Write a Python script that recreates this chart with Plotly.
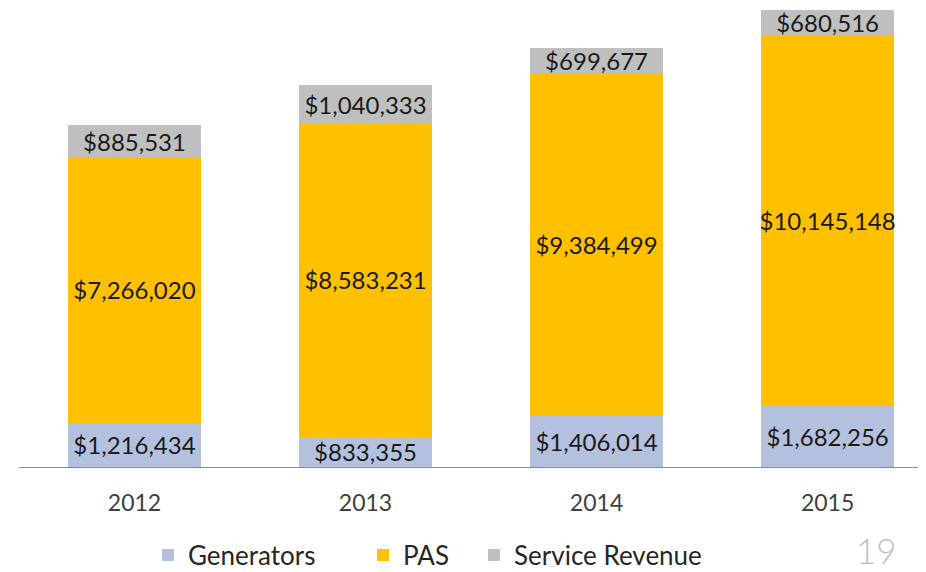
import plotly.graph_objects as go

years = ["2012", "2013", "2014", "2015"]
generators = [1216434, 833355, 1406014, 1682256]
pas = [7266020, 8583231, 9384499, 10145148]
service = [885531, 1040333, 699677, 680516]

series = [
    ("Generators", generators, "#B4C1DE", "legend"),
    ("PAS", pas, "#FFC000", "legend2"),
    ("Service Revenue", service, "#BFBFBF", "legend3"),
]

FONT = "Lato"
W, H = 918, 564  # page has an 8px body margin

fig = go.Figure()
for name, vals, color, leg in series:
    fig.add_trace(go.Bar(
        x=years, y=vals, name=name, legend=leg,
        marker=dict(color=color, line=dict(width=0)),
        text=[f"${v:,}" for v in vals],
        textposition="inside",
        insidetextanchor="middle",
        constraintext="none",
        textangle=0,
        textfont=dict(family=FONT, size=24, color="#1a1a1a"),
        hoverinfo="skip",
    ))

leg_common = dict(
    orientation="h", xref="container", yref="container",
    y=17 / H, xanchor="left", yanchor="middle",
    font=dict(family=FONT, size=26, color="#262626"),
    itemclick=False, bgcolor="rgba(0,0,0,0)",
)

fig.update_layout(
    barmode="stack",
    bargap=0.427,
    width=W, height=H,
    margin=dict(l=11, r=0, t=0, b=105),
    paper_bgcolor="white", plot_bgcolor="white",
    xaxis=dict(
        type="category", range=[-0.5, 3.426],
        showline=True, linecolor="#898989", linewidth=1,
        showgrid=False, ticks="", ticklabelstandoff=15,
        tickfont=dict(family=FONT, size=23, color="#404040"),
    ),
    yaxis=dict(
        range=[0, 459 / 36.5 * 1e6], visible=False, showgrid=False,
    ),
    showlegend=True,
    legend=dict(leg_common, x=140 / W),
    legend2=dict(leg_common, x=355 / W),
    legend3=dict(leg_common, x=466 / W),
    annotations=[dict(
        text="19", xref="paper", yref="paper",
        x=(868 - 11) / 907, y=-(542 - 459) / 459,
        xanchor="center", yanchor="middle", showarrow=False,
        font=dict(family=FONT, size=35, color="#C0C0C0", weight=300),
    )],
)

fig.write_html("out.html")
